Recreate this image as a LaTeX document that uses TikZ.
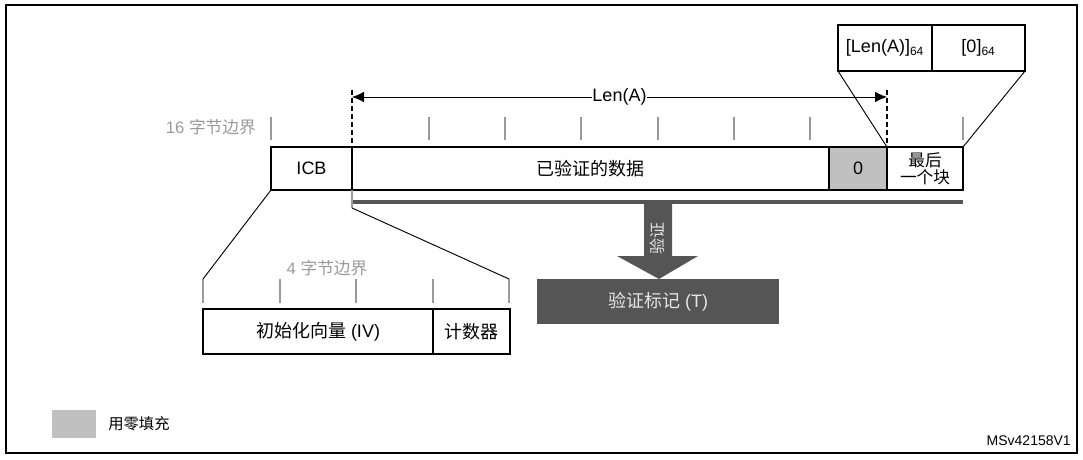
\documentclass[tikz,border=0pt]{standalone}
\usepackage{fontspec}
\setmainfont{Liberation Sans}
\newfontfamily\cjk{Noto Sans CJK SC}
\usetikzlibrary{arrows.meta}
\definecolor{padgray}{HTML}{C0C0C0}
\definecolor{darkfill}{HTML}{555555}
\definecolor{tickgray}{HTML}{9A9A9A}
\definecolor{lighttext}{HTML}{E6E6E6}
\begin{document}
\begin{tikzpicture}[x=0.75pt,y=-0.75pt,
  box/.style={draw,line width=1.1pt,inner sep=0pt,outer sep=0pt,font=\fontsize{13.5}{15}\selectfont},
  tickline/.style={draw=tickgray,line width=1.1pt},
  thinline/.style={draw,line width=0.7pt},
  boundlabel/.style={text=tickgray,font=\fontsize{12.5}{14}\selectfont,inner sep=0pt}]
\useasboundingbox (0,0) rectangle (1083,460);
\draw[line width=1.5pt] (6,5) rectangle (1077,453);

% main row
\node[box, minimum width=60.75pt, minimum height=32.25pt] (icb) at (311.5,168.5) {ICB};
\node[box, minimum width=357.75pt, minimum height=32.25pt] (data) at (590.5,168.5) {\cjk 已验证的数据};
\node[box, fill=padgray, minimum width=43.5pt, minimum height=32.25pt] (zero) at (858,168.5) {0};
\node[box, minimum width=57pt, minimum height=32.25pt, align=center, font=\cjk\fontsize{12.5}{13}\selectfont] (last) at (925,168.5) {最后\\一个块};

% top boxes
\node[box, minimum width=70.5pt, minimum height=34.5pt] (lena) at (885,48) {[Len(A)]\textsubscript{\fontsize{9}{10}\selectfont 64}};
\node[box, minimum width=69.75pt, minimum height=34.5pt] (zsf) at (978.5,48) {[0]\textsubscript{\fontsize{9}{10}\selectfont 64}};
\draw[thinline] (lena.south west) -- (last.north west);
\draw[thinline] (zsf.south east) -- (last.north east);

% 16-byte boundary ticks
\foreach \x in {271,429,505,581,658,734,810,963} {
  \draw[tickline] (\x,117) -- (\x,140);
}
\node[boundlabel, anchor=east] (b16) at (256,127) {16 {\cjk 字节边界}};

% dashed guides and Len(A)
\coordinate (dla) at (352,90);
\coordinate (dlb) at (887,90);
\draw[line width=0.8pt, dash pattern=on 4pt off 2pt] (dla) -- (data.north west);
\draw[line width=0.8pt, dash pattern=on 4pt off 2pt] (dlb) -- (zero.north east);
\coordinate (aa) at (352,97);
\coordinate (ab) at (887,97);
\draw[line width=0.7pt, {Latex[length=9pt,width=8pt]}-{Latex[length=9pt,width=8pt]}] (aa) -- (ab)
  node[midway, fill=white, inner sep=0.5pt, font=\fontsize{13.5}{15}\selectfont] (lenlab) {Len(A)};

% bar under data
\coordinate (barl) at (352,202);
\coordinate (barr) at (963,202);
\draw[darkfill, line width=3pt] (barl) -- (barr);
\coordinate (kink) at (352,208);
\draw[tickgray, line width=1.1pt] (data.south west) -- (kink);

% big arrow
\fill[darkfill] (644,204) -- (672,204) -- (672,256) -- (698,256) -- (659,279) -- (617,256) -- (644,256) -- cycle;
\node[rotate=90, text=lighttext, inner sep=0pt, font=\cjk\fontsize{12}{13}\selectfont] (vlab) at (657,238) {验证};

% tag
\node[box, draw=none, fill=darkfill, text=lighttext, minimum width=181.5pt, minimum height=33.75pt] (tag) at (658,301.5) {{\cjk 验证标记} (T)};

% 4-byte boundary
\foreach \x/\n in {203/t1,280/t2,356/t3,433/t4,509/t5} {
  \coordinate (\n) at (\x,279);
  \draw[tickline] (\n) -- (\x,303);
}
\node[boundlabel] (b4) at (327,268) {4 {\cjk 字节边界}};
\node[box, minimum width=172.5pt, minimum height=33.75pt] (iv) at (318,331.5) {{\cjk 初始化向量} (IV)};
\node[box, minimum width=57.75pt, minimum height=33.75pt] (ctr) at (471.5,331.5) {\cjk 计数器};
\draw[thinline] (icb.south west) -- (t1);
\draw[thinline] (kink) -- (t5);

% legend
\node[fill=padgray, inner sep=0pt, minimum width=33pt, minimum height=21pt] (leg) at (74,424) {};
\node[anchor=west, inner sep=0pt, font=\fontsize{11.5}{13}\selectfont] (legt) at (108,424) {\cjk 用零填充};
\node[anchor=east, inner sep=0pt, font=\fontsize{10.5}{12}\selectfont] (code) at (1071,441) {MSv42158V1};
\end{tikzpicture}
\end{document}
